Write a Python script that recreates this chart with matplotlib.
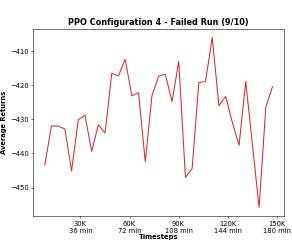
import numpy as np
import matplotlib
matplotlib.use('Agg')
import matplotlib.pyplot as plt

# Evaluation points (timesteps) and average returns
timesteps = np.arange(2, 37) * 4096
returns = [
    -443.4, -431.9, -432.0, -432.8, -445.1, -430.1, -428.8, -439.4, -431.6, -434.0,
    -416.5, -417.3, -412.4, -423.1, -422.2, -442.4, -423.1, -417.3, -416.8, -424.8,
    -413.0, -447.0, -444.4, -419.2, -418.9, -406.0, -426.0, -423.3, -430.9, -437.6,
    -418.9, -437.4, -455.8, -426.4, -420.4,
]

tick_steps = [30000, 60000, 90000, 120000, 150000]
tick_labels = ['30K\n36 min', '60K\n72 min', '90K\n108 min', '120K\n144 min', '150K\n180 min']

fig, ax = plt.subplots(figsize=(6, 5), dpi=48.83)
ax.plot(timesteps, returns, color='tab:red', linewidth=1.5)
ax.set_xticks(tick_steps)
ax.set_xticklabels(tick_labels)
ax.set_xlabel('Timesteps', fontweight='bold', labelpad=0)
ax.set_ylabel('Average Returns', fontweight='bold')
ax.set_title('PPO Configuration 4 - Failed Run (9/10)', fontweight='bold', fontsize=12)
plt.subplots_adjust(left=0.114, right=0.969, top=0.881, bottom=0.115)
plt.savefig('out.png')
